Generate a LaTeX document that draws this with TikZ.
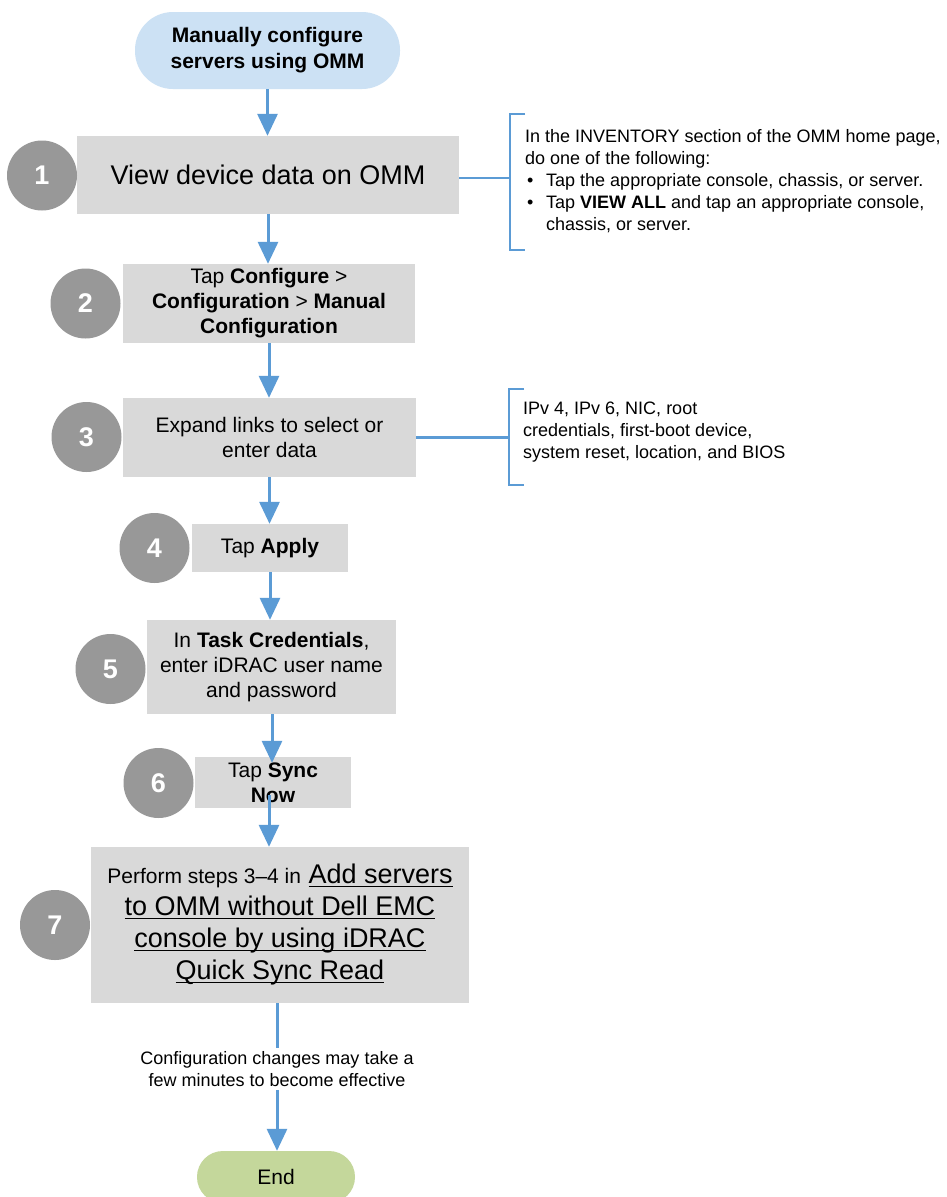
\documentclass[tikz,border=0pt]{standalone}
\usepackage{fontspec}
\setmainfont{Liberation Sans}
\newcommand{\ulink}[1]{\setbox0\hbox{#1}\rlap{\rule[-3.5pt]{\wd0}{1.3pt}}\box0}
\usetikzlibrary{arrows.meta,calc}
\definecolor{flow}{HTML}{5B9BD5}
\definecolor{boxgray}{HTML}{D9D9D9}
\definecolor{numgray}{HTML}{989898}
\definecolor{startblue}{HTML}{CCE1F4}
\definecolor{endgreen}{HTML}{C4D79B}
\tikzset{
  stepbox/.style={fill=boxgray, draw=none, inner sep=0pt, align=center, font=\fontsize{21}{25}\selectfont},
  numcircle/.style={circle, fill=numgray, minimum size=70pt, inner sep=0pt, text=white, font=\bfseries\fontsize{27}{30}\selectfont},
  arr/.style={draw=flow, line width=3pt, -{Triangle[length=22pt,width=20pt]}},
  brk/.style={draw=flow, line width=2.5pt},
  notetext/.style={inner sep=0pt, align=left, font=\fontsize{18}{22}\selectfont},
}
\begin{document}
\begin{tikzpicture}[x=1pt,y=-1pt]
\useasboundingbox (0,0) rectangle (947,1197);
\fill[white] (0,0) rectangle (947,1197);

% start
\node[fill=startblue, rounded corners=38pt, minimum width=265pt, minimum height=77pt, inner sep=0pt, align=center, font=\bfseries\fontsize{21}{26}\selectfont] (start) at (267.5,50.5) {Manually configure\\servers using OMM};

% step boxes
\node[stepbox, minimum width=382pt, minimum height=78pt, font=\fontsize{27}{32}\selectfont] (b1) at (268,175) {View device data on OMM};
\node[stepbox, minimum width=292pt, minimum height=79pt] (b2) at (269,303.5) {Tap \textbf{Configure} >\\\textbf{Configuration} > \textbf{Manual}\\\textbf{Configuration}};
\node[stepbox, minimum width=293pt, minimum height=79pt] (b3) at (269.5,437.5) {Expand links to select or\\enter data};
\node[stepbox, minimum width=156pt, minimum height=48pt] (b4) at (270,548) {Tap \textbf{Apply}};
\node[stepbox, minimum width=249pt, minimum height=94pt] (b5) at (271.5,667) {In \textbf{Task Credentials},\\enter iDRAC user name\\and password};
\node[stepbox, minimum width=156pt, minimum height=51pt] (b6) at (273,782.5) {Tap \textbf{Sync}\\\textbf{Now}};
\node[stepbox, minimum width=378pt, minimum height=156pt, font=\fontsize{27}{32}\selectfont] (b7) at (280,925) {{\fontsize{21}{25}\selectfont Perform steps 3--4 in} \ulink{Add servers}\\\ulink{to OMM without Dell EMC}\\\ulink{console by using iDRAC}\\\ulink{Quick Sync Read}};

% number circles
\node[numcircle] (c1) at (42,175.5) {1};
\node[numcircle] (c2) at (85.5,303.5) {2};
\node[numcircle] (c3) at (86.5,437) {3};
\node[numcircle] (c4) at (154.5,548) {4};
\node[numcircle] (c5) at (110.5,669) {5};
\node[numcircle] (c6) at (158.5,783) {6};
\node[numcircle] (c7) at (55,925) {7};

% notes
\node[notetext, anchor=west] (n1) at (525,181.5) {In the INVENTORY section of the OMM home page,\\do one of the following:\\\hspace*{2pt}\makebox[19pt][l]{\textbullet}Tap the appropriate console, chassis, or server.\\\hspace*{2pt}\makebox[19pt][l]{\textbullet}Tap \textbf{VIEW ALL} and tap an appropriate console,\\\hspace*{21pt}chassis, or server.};
\node[notetext, anchor=west] (n3) at (523,432) {IPv 4, IPv 6, NIC, root\\credentials, first-boot device,\\system reset, location, and BIOS};

\node[inner xsep=0pt, inner ysep=3pt, align=center, font=\fontsize{18}{22}\selectfont] (note) at (277,1069) {Configuration changes may take a\\few minutes to become effective};

\node[fill=endgreen, rounded corners=25.9pt, minimum width=158pt, minimum height=52pt, inner sep=0pt, font=\fontsize{21}{25}\selectfont] (end) at (276,1177) {End};

% brackets
\coordinate (k1) at (510,178);
\draw[brk] (b1.east |- k1) -- (k1);
\draw[brk] (525,114) -- (510,114) -- (510,250) -- (525,250);
\coordinate (k3) at (509,437.5);
\draw[brk] (b3.east) -- (k3);
\draw[brk] (524,389) -- (509,389) -- (509,485) -- (524,485);

% arrows
\draw[arr] (start.south) -- (start.south |- b1.north);
\draw[arr] (b1.south) -- (b1.south |- b2.north);
\draw[arr] (b2.south) -- (b2.south |- b3.north);
\draw[arr] (b3.south) -- (b3.south |- b4.north);
\draw[arr] (b4.south) -- (b4.south |- b5.north);
\draw[arr] ($(b5.south)+(0.5,0)$) -- ($(b5.south |- b6.north)+(0.5,6)$);
\draw[arr] ($(b6.center)+(-4,12.5)$) -- ($(b6.center |- b7.north)+(-4,0)$);
\draw[flow, line width=3pt] (note.north |- b7.south) -- (note.north);
\draw[arr] (note.south) -- (note.south |- end.north);
\end{tikzpicture}
\end{document}
